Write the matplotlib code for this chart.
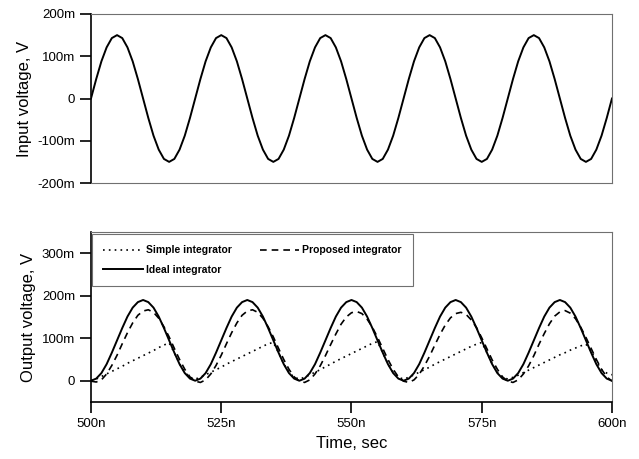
import numpy as np
import matplotlib
matplotlib.use("Agg")
import matplotlib.pyplot as plt

plt.rcParams['font.family'] = ['Liberation Sans', 'DejaVu Sans']

# Time axis (ns), 1 ns step
time_ns = np.arange(500, 601, 1)

# Input voltage (mV), one row per period
input_mv = [
    0, 46, 88, 121, 143, 150, 143, 121, 88, 46, 0, -46, -88, -121, -143, -150, -143, -121, -88, -46,
    0, 46, 88, 121, 143, 150, 143, 121, 88, 46, 0, -46, -88, -121, -143, -150, -143, -121, -88, -46,
    0, 46, 88, 121, 143, 150, 143, 121, 88, 46, 0, -46, -88, -121, -143, -150, -143, -121, -88, -46,
    0, 46, 88, 121, 143, 150, 143, 121, 88, 46, 0, -46, -88, -121, -143, -150, -143, -121, -88, -46,
    0, 46, 88, 121, 143, 150, 143, 121, 88, 46, 0, -46, -88, -121, -143, -150, -143, -121, -88, -46,
    0,
]

# Output voltages (mV)
ideal_mv = [
    0, 5, 18, 39, 66, 95, 124, 151, 172, 185, 190, 185, 172, 151, 124, 95, 66, 39, 18, 5,
    0, 5, 18, 39, 66, 95, 124, 151, 172, 185, 190, 185, 172, 151, 124, 95, 66, 39, 18, 5,
    0, 5, 18, 39, 66, 95, 124, 151, 172, 185, 190, 185, 172, 151, 124, 95, 66, 39, 18, 5,
    0, 5, 18, 39, 66, 95, 124, 151, 172, 185, 190, 185, 172, 151, 124, 95, 66, 39, 18, 5,
    0, 5, 18, 39, 66, 95, 124, 151, 172, 185, 190, 185, 172, 151, 124, 95, 66, 39, 18, 5,
    0,
]

proposed_mv = [
    -1, -3, 2, 16, 36, 60, 87, 113, 136, 154, 164, 167, 161, 147, 127, 103, 76, 50, 27, 9,
    -1, -4, 2, 16, 36, 60, 87, 113, 136, 154, 164, 167, 161, 147, 127, 103, 76, 50, 27, 9,
    -1, -4, 2, 16, 35, 59, 85, 110, 133, 150, 160, 163, 158, 145, 126, 102, 76, 50, 27, 9,
    -1, -4, 2, 15, 35, 58, 84, 109, 131, 148, 158, 161, 156, 143, 125, 101, 75, 49, 27, 9,
    -1, -4, 2, 16, 35, 59, 86, 111, 134, 152, 162, 165, 159, 146, 126, 102, 76, 50, 27, 9,
    -1,
]

simple_mv = [
    0, 4, 10, 16, 22, 28, 34, 41, 47, 53, 59, 65, 71, 78, 84, 89, 66, 40, 20, 8,
    4, 8, 14, 20, 26, 32, 39, 45, 51, 57, 63, 69, 75, 81, 87, 90, 66, 40, 20, 8,
    4, 8, 14, 20, 26, 33, 39, 46, 52, 58, 64, 70, 76, 82, 88, 92, 66, 40, 20, 8,
    4, 8, 14, 20, 26, 32, 39, 45, 51, 57, 63, 69, 75, 81, 86, 90, 66, 40, 20, 8,
    4, 8, 13, 19, 25, 31, 37, 43, 49, 55, 61, 66, 72, 77, 82, 86, 70, 46, 26, 18,
    14,
]

top_ticks = [-200, -100, 0, 100, 200]
top_labels = ['-200m', '-100m', '0', '100m', '200m']
bot_ticks = [0, 100, 200, 300]
bot_labels = ['0', '100m', '200m', '300m']
x_ticks = [500, 525, 550, 575, 600]
x_labels = ['500n', '525n', '550n', '575n', '600n']

fig = plt.figure(figsize=(6.39, 4.59), dpi=100)
ax1 = fig.add_axes([0.1424, 0.6013, 0.8153, 0.3682])
ax2 = fig.add_axes([0.1424, 0.1242, 0.8153, 0.3704])


def style(ax):
    for s in ['top', 'right']:
        ax.spines[s].set_color('#707070')
        ax.spines[s].set_linewidth(0.8)
    for s in ['left', 'bottom']:
        ax.spines[s].set_color('black')
        ax.spines[s].set_linewidth(1.2)
    ax.tick_params(direction='out', length=8, width=1.2, labelsize=9.5, colors='black')
    ax.set_xlim(500, 600)


# Input panel
ax1.plot(time_ns, input_mv, color='black', lw=1.4)
style(ax1)
ax1.spines['bottom'].set_color('#707070')
ax1.spines['bottom'].set_linewidth(0.8)
ax1.set_ylim(-200, 200)
ax1.set_yticks(top_ticks)
ax1.set_yticklabels(top_labels)
ax1.set_xticks([])
ax1.set_ylabel('Input voltage, V', fontsize=12)

# Output panel
ax2.plot(time_ns, simple_mv, color='black', lw=1.2, linestyle=(0, (1, 2.5)), label='Simple integrator')
ax2.plot(time_ns, ideal_mv, color='black', lw=1.4, label='Ideal integrator')
ax2.plot(time_ns, proposed_mv, color='black', lw=1.2, linestyle=(0, (4, 3)), label='Proposed integrator')
style(ax2)
ax2.set_ylim(-50, 350)
ax2.set_yticks(bot_ticks)
ax2.set_yticklabels(bot_labels)
ax2.set_xticks(x_ticks)
ax2.set_xticklabels(x_labels)
ax2.set_ylabel('Output voltage, V', fontsize=12)
ax2.set_xlabel('Time, sec', fontsize=12)

leg = ax2.legend(loc='upper left', bbox_to_anchor=(0.002, 0.988, 0.616, 0), mode='expand',
                 borderaxespad=0, ncol=2, fancybox=False, framealpha=1, edgecolor='#707070',
                 prop={'weight': 'bold', 'size': 7.5}, handlelength=3.8, handletextpad=0.25,
                 labelspacing=0.9, borderpad=1.1, columnspacing=1.0)
leg.get_frame().set_linewidth(0.8)

plt.savefig('out.png', dpi=100)
